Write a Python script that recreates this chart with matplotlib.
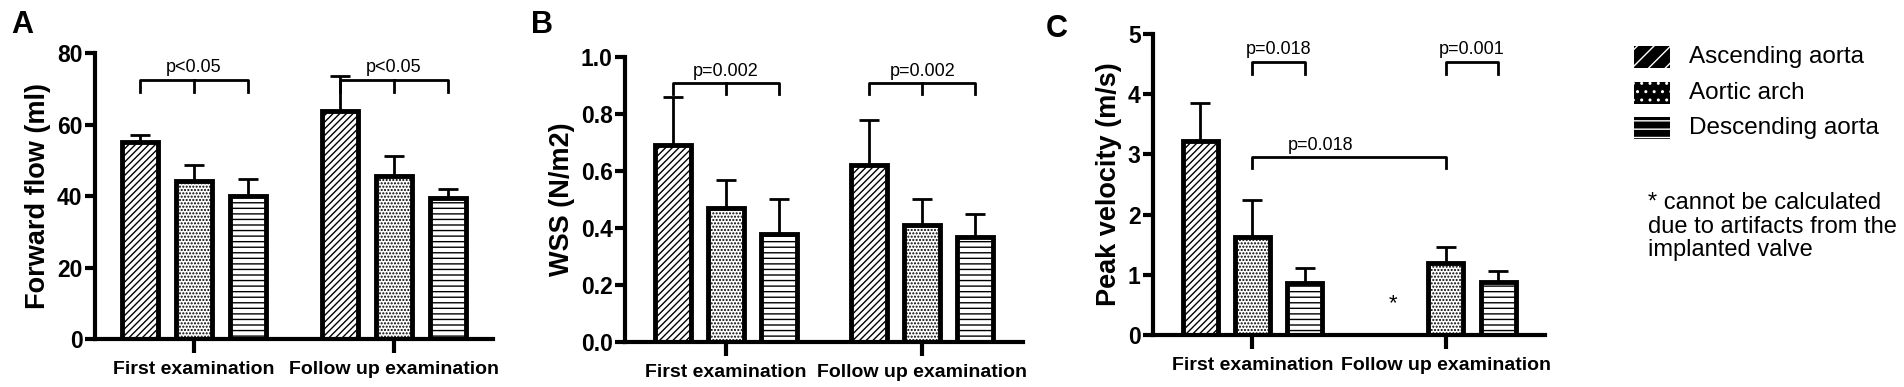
import matplotlib
matplotlib.use("Agg")
import matplotlib.pyplot as plt
from matplotlib.patches import Rectangle
import numpy as np

plt.rcParams["font.family"] = ["Liberation Sans", "DejaVu Sans"]
plt.rcParams["hatch.linewidth"] = 1.0

groups = ["First examination", "Follow up examination"]
regions = ["Ascending aorta", "Aortic arch", "Descending aorta"]
hatches = ["/////", ".....", "---"]

# means and upper SD per region, [first, follow up]
flow_mean = {"Ascending aorta": [55.2, 63.8], "Aortic arch": [44.2, 45.6], "Descending aorta": [40.0, 39.5]}
flow_err = {"Ascending aorta": [1.8, 9.7], "Aortic arch": [4.6, 5.6], "Descending aorta": [4.8, 2.5]}
wss_mean = {"Ascending aorta": [0.69, 0.62], "Aortic arch": [0.47, 0.41], "Descending aorta": [0.38, 0.37]}
wss_err = {"Ascending aorta": [0.17, 0.16], "Aortic arch": [0.10, 0.09], "Descending aorta": [0.12, 0.08]}
vel_mean = {"Ascending aorta": [3.22, np.nan], "Aortic arch": [1.63, 1.20], "Descending aorta": [0.87, 0.88]}
vel_err = {"Ascending aorta": [0.63, np.nan], "Aortic arch": [0.62, 0.26], "Descending aorta": [0.25, 0.18]}

fig = plt.figure(figsize=(19.04, 3.87), dpi=100)
axA = fig.add_axes([0.0499, 0.124, 0.209, 0.739])
axB = fig.add_axes([0.3283, 0.116, 0.209, 0.737])
axC = fig.add_axes([0.6056, 0.134, 0.2059, 0.778])

gx = np.array([0.0, 3.7])
off = np.array([-1, 0, 1])
W = 0.67


def bars(ax, mean, err, ylim, yticks, ylabel):
    for k, r in enumerate(regions):
        x = gx + off[k]
        m = np.array(mean[r], dtype=float)
        e = np.array(err[r], dtype=float)
        ok = ~np.isnan(m)
        ax.bar(x[ok], m[ok], W, color="white", edgecolor="black", linewidth=3.5,
               hatch=hatches[k], zorder=2)
        ax.errorbar(x[ok], m[ok], yerr=[np.zeros(ok.sum()), e[ok]], fmt="none",
                    ecolor="black", elinewidth=2, capsize=7, capthick=2, zorder=1)
    ax.set_ylim(*ylim)
    ax.set_yticks(yticks)
    ax.set_xticks(gx)
    ax.set_xticklabels(groups, fontsize=14, fontweight="bold")
    ax.set_ylabel(ylabel, fontsize=19.5, fontweight="bold", labelpad=4)
    for s in ["top", "right"]:
        ax.spines[s].set_visible(False)
    for s in ["left", "bottom"]:
        ax.spines[s].set_linewidth(3)
    ax.tick_params(axis="y", width=3, length=7, labelsize=16.5, pad=2)
    ax.tick_params(axis="x", width=3, length=10, pad=6)
    for lab in ax.get_yticklabels():
        lab.set_fontweight("bold")


def bracket(ax, x0, x1, y, drop, text, mid=False, tx=None, ty=None):
    xs = [x0, x0, x1, x1]
    ys = [y - drop, y, y, y - drop]
    ax.plot(xs, ys, color="black", lw=2, clip_on=False)
    if mid:
        xm = (x0 + x1) / 2
        ax.plot([xm, xm], [y, y - drop], color="black", lw=2, clip_on=False)
    ax.text((x0 + x1) / 2 if tx is None else tx, ty, text, fontsize=13,
            ha="center", va="bottom")


bars(axA, flow_mean, flow_err, (0, 80), [0, 20, 40, 60, 80], "Forward flow (ml)")
axA.set_xlim(-1.83, 5.53)
for g in gx:
    bracket(axA, g - 1, g + 1, 72.5, 3.5, "p<0.05", mid=True, ty=73.5)

bars(axB, wss_mean, wss_err, (0, 1.0), [0, 0.2, 0.4, 0.6, 0.8, 1.0], "WSS (N/m2)")
axB.set_yticklabels(["0.0", "0.2", "0.4", "0.6", "0.8", "1.0"])
for lab in axB.get_yticklabels():
    lab.set_fontweight("bold")
axB.set_xlim(-1.9, 5.6)
for g in gx:
    bracket(axB, g - 1, g + 1, 0.91, 0.04, "p=0.002", mid=True, ty=0.92)

bars(axC, vel_mean, vel_err, (0, 5), [0, 1, 2, 3, 4, 5], "Peak velocity (m/s)")
axC.set_xlim(-1.9, 5.6)
bracket(axC, gx[0], gx[0] + 1, 4.53, 0.2, "p=0.018", ty=4.6)
bracket(axC, gx[1], gx[1] + 1, 4.53, 0.2, "p=0.001", ty=4.6)
bracket(axC, gx[0], gx[1], 2.96, 0.18, "p=0.018", tx=gx[0] + 1.3, ty=3.0)
axC.text(gx[1] - 1, 0.52, "*", fontsize=16, ha="center", va="center")

for lbl, x, y in [("A", 0.006, 0.915), ("B", 0.279, 0.915), ("C", 0.549, 0.905)]:
    fig.text(x, y, lbl, fontsize=22, fontweight="bold")

# legend drawn by hand: black boxes with white pattern
W_px, H_px = 1904, 387
for k, r in enumerate(regions):
    yc = [57, 93, 128][k]
    box = Rectangle((1634 / W_px, 1 - (yc + 11) / H_px), 36 / W_px, 22 / H_px,
                    transform=fig.transFigure, facecolor="black", edgecolor="white",
                    linewidth=0, hatch=hatches[k][:2])
    fig.patches.append(box)
    fig.text(1689 / W_px, 1 - yc / H_px, r, fontsize=17.5, va="center")

fig.text(1648 / W_px, 1 - 192 / H_px,
         "* cannot be calculated\ndue to artifacts from the\nimplanted valve",
         fontsize=17, va="top", linespacing=1.1)

fig.savefig("out.png", dpi=100)
